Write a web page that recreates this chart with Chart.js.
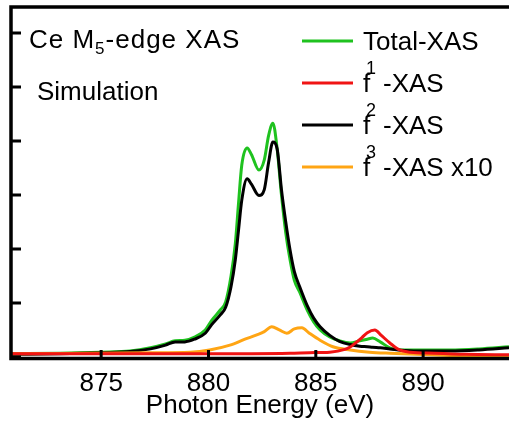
<!DOCTYPE html>
<html>
<head>
<meta charset="utf-8">
<script src="https://cdn.jsdelivr.net/npm/chart.js@4.4.1/dist/chart.umd.min.js"></script>
<style>
  html, body { margin: 0; padding: 0; background: #fff; }
  #wrap { width: 509px; height: 422px; }
</style>
</head>
<body>
<div id="wrap"><canvas id="xasChart"></canvas></div>
<script>
// photon energy grid (eV) shared by Total-XAS and f2-XAS
const energy = [870.8, 873.1, 875.0, 876.35, 877.3, 878.0, 878.45, 878.9, 879.35, 879.85,
  880.15, 880.55, 880.8, 881.05, 881.25, 881.4, 881.55, 881.8, 882.0, 882.35,
  882.6, 882.8, 883.0, 883.2, 883.4, 883.6, 883.8, 884.0, 884.25, 884.6,
  884.9, 885.2, 885.65, 886.1, 886.6, 887.05, 887.4, 887.65, 888.0, 888.45,
  889.15, 890.0, 891.25, 892.6, 894.0];
const totalXas = [0.06, 0.07, 0.09, 0.11, 0.17, 0.24, 0.30, 0.31, 0.37, 0.50,
  0.68, 0.87, 1.02, 1.50, 2.10, 2.85, 3.55, 3.87, 3.75, 3.46,
  3.65, 4.10, 4.33, 3.85, 3.00, 2.30, 1.80, 1.42, 1.20, 0.87,
  0.65, 0.50, 0.37, 0.30, 0.26, 0.30, 0.33, 0.35, 0.28, 0.17,
  0.13, 0.13, 0.13, 0.15, 0.19];
const f2Xas = [0.05, 0.06, 0.08, 0.10, 0.15, 0.22, 0.28, 0.28, 0.33, 0.44,
  0.60, 0.78, 0.92, 1.30, 1.80, 2.35, 2.90, 3.30, 3.20, 2.99,
  3.10, 3.60, 3.98, 3.85, 3.10, 2.50, 1.98, 1.58, 1.30, 0.95,
  0.72, 0.56, 0.40, 0.29, 0.23, 0.20, 0.19, 0.18, 0.17, 0.15,
  0.12, 0.11, 0.11, 0.13, 0.17];

const f1Energy = [870.8, 875.0, 879.6, 883.8, 884.7, 885.65, 886.35, 886.6, 886.85, 887.15,
  887.4, 887.75, 888.05, 888.45, 888.9, 889.4, 890.5, 892.0, 894.0];
const f1Xas = [0.06, 0.06, 0.06, 0.07, 0.08, 0.09, 0.14, 0.185, 0.26, 0.36,
  0.45, 0.50, 0.40, 0.26, 0.13, 0.09, 0.07, 0.05, 0.04];

const f3Energy = [870.8, 877.3, 879.15, 880.05, 881.0, 881.7, 882.25, 882.6, 882.95, 883.3,
  883.65, 884.0, 884.35, 884.7, 885.2, 885.8, 886.6, 887.5, 888.45, 891.25, 894.0];
const f3Xas10 = [0.06, 0.08, 0.09, 0.13, 0.22, 0.33, 0.41, 0.47, 0.56, 0.50,
  0.44, 0.52, 0.54, 0.44, 0.31, 0.19, 0.13, 0.09, 0.07, 0.03, 0.01];

const xTicks = [875, 880, 885, 890];
const yTicks = [0, 1, 2, 3, 4, 5, 6];

const FONT = '"Liberation Sans", Arial, sans-serif';
const pts = (xs, ys) => xs.map((x, i) => ({ x: x, y: ys[i] }));

const green = '#1fc21f', red = '#f01414', black = '#000000', orange = '#ffa514';

// axes frame with inward ticks
const frame = {
  id: 'frame',
  afterDatasetsDraw(chart) {
    const { ctx, chartArea: a, scales } = chart;
    ctx.save();
    ctx.strokeStyle = '#000';
    ctx.lineWidth = 3.5;
    ctx.beginPath();
    ctx.moveTo(a.right + 2, a.top);
    ctx.lineTo(a.left, a.top);
    ctx.lineTo(a.left, a.bottom + 1.5);
    ctx.lineTo(a.right + 2, a.bottom + 1.5);
    ctx.stroke();
    ctx.lineWidth = 3;
    ctx.beginPath();
    yTicks.forEach(v => {
      const p = scales.y.getPixelForValue(v);
      ctx.moveTo(a.left, p);
      ctx.lineTo(a.left + 10, p);
    });
    xTicks.forEach(v => {
      const p = scales.x.getPixelForValue(v);
      ctx.moveTo(p, a.bottom);
      ctx.lineTo(p, a.bottom - 7);
    });
    ctx.stroke();
    ctx.restore();
  }
};

// title, note and legend inside the plot
const labels = {
  id: 'labels',
  afterDraw(chart) {
    const ctx = chart.ctx;
    ctx.save();
    ctx.fillStyle = '#000';
    ctx.textBaseline = 'alphabetic';
    ctx.textAlign = 'left';

    const big = '26px ' + FONT, small = '17px ' + FONT;
    ctx.letterSpacing = '1px';
    ctx.font = big;
    let x = 29;
    ctx.fillText('Ce M', x, 48);
    x += ctx.measureText('Ce M').width;
    ctx.font = small;
    ctx.fillText('5', x, 54);
    x += ctx.measureText('5').width;
    ctx.font = big;
    ctx.fillText('-edge XAS', x, 48);
    ctx.letterSpacing = '0px';
    ctx.fillText('Simulation', 37, 100);

    const rows = [
      { color: green, pre: 'Total-XAS', sup: '', post: '' },
      { color: red, pre: 'f', sup: '1', post: '-XAS' },
      { color: black, pre: 'f', sup: '2', post: '-XAS' },
      { color: orange, pre: 'f', sup: '3', post: '-XAS x10' }
    ];
    rows.forEach((r, i) => {
      const ly = 41 + 42 * i;
      ctx.strokeStyle = r.color;
      ctx.lineWidth = 3;
      ctx.beginPath();
      ctx.moveTo(302, ly);
      ctx.lineTo(353, ly);
      ctx.stroke();
      ctx.font = big;
      ctx.fillText(r.pre, 363, ly + 9);
      if (r.sup) {
        ctx.font = '18px ' + FONT;
        ctx.fillText(r.sup, 366, ly - 9);
        ctx.font = big;
        ctx.fillText(r.post, 383, ly + 9);
      }
    });
    ctx.restore();
  }
};

const data = {
  datasets: [
    { label: 'Total-XAS', data: pts(energy, totalXas), borderColor: green, order: 3 },
    { label: 'f1-XAS', data: pts(f1Energy, f1Xas), borderColor: red, order: 0 },
    { label: 'f2-XAS', data: pts(energy, f2Xas), borderColor: black, order: 2 },
    { label: 'f3-XAS x10', data: pts(f3Energy, f3Xas10), borderColor: orange, order: 1 }
  ]
};

const config = {
  type: 'line',
  data: data,
  options: {
    responsive: true,
    maintainAspectRatio: false,
    animation: false,
    layout: { padding: { top: 7, left: 0, right: 0, bottom: 0 } },
    elements: {
      line: { borderWidth: 3, cubicInterpolationMode: 'monotone', fill: false },
      point: { radius: 0 }
    },
    plugins: {
      legend: { display: false },
      tooltip: { enabled: false }
    },
    scales: {
      x: {
        type: 'linear',
        min: 870.8,
        max: 894,
        afterBuildTicks: s => { s.ticks = xTicks.map(v => ({ value: v })); },
        afterFit: s => { s.height = 65; },
        grid: { display: false, drawTicks: false },
        border: { display: false },
        ticks: { color: '#000', font: { family: FONT, size: 26 }, padding: 11, maxRotation: 0 },
        title: {
          display: true,
          text: 'Photon Energy (eV)',
          color: '#000',
          font: { family: FONT, size: 26 },
          padding: { top: 0, bottom: 1 }
        }
      },
      y: {
        min: 0,
        max: 6.48,
        afterBuildTicks: s => { s.ticks = yTicks.map(v => ({ value: v })); },
        afterFit: s => { s.width = 11; },
        grid: { display: false, drawTicks: false },
        border: { display: false },
        ticks: { display: false }
      }
    }
  },
  plugins: [frame, labels]
};

new Chart(document.getElementById('xasChart'), config);
</script>
</body>
</html>
